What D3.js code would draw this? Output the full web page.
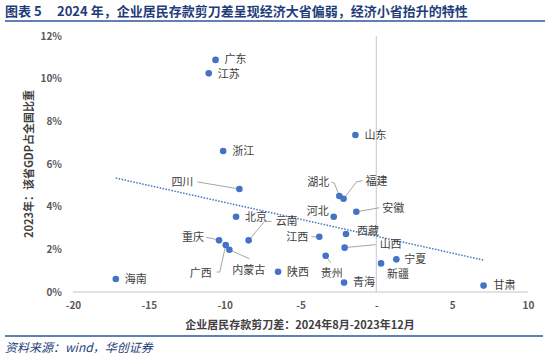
<!DOCTYPE html>
<html lang="zh">
<head>
<meta charset="utf-8">
<title>企业居民存款剪刀差</title>
<script src="https://d3js.org/d3.v7.min.js"></script>
<style>
  body { margin: 0; background: #fff; }
  svg text { font-family: "Noto Sans CJK SC", "Noto Sans", sans-serif; }
</style>
</head>
<body>
<div id="chart"></div>
<script>
// provinces: x = deposit scissors gap (2024-08 vs 2023-12), y = GDP share 2023 (%)
var provinces = ["广东","江苏","浙江","山东","四川","湖北","福建","河北","安徽","北京","云南","西藏",
                 "江西","山西","重庆","广西","内蒙古","陕西","贵州","青海","新疆","宁夏","甘肃","海南"]
var gap   = [-10.6,-11.05,-10.1,-1.38,-9.03,-2.44,-2.16,-2.81,-1.32,-9.25,-8.42,-2.0,
             -3.76,-2.09,-10.37,-9.93,-9.69,-6.48,-3.34,-2.13,0.31,1.32,7.07,-17.18]
var share = [10.88,10.25,6.61,7.36,4.83,4.5,4.37,3.53,3.76,3.53,2.42,2.72,
             2.59,2.08,2.42,2.2,1.98,0.95,1.7,0.44,1.34,1.53,0.3,0.61]
var xTicks = [-20,-15,-10,-5,0,5,10]
var yTicks = [0,2,4,6,8,10,12]

// label placement: [dx, dy, anchor, leader points relative to dot]
var labelPos = {
  "广东":[9,-1,"start"], "江苏":[9,1,"start"], "浙江":[9,0,"start"], "山东":[9,0,"start"],
  "四川":[-46,-7,"end",[[0,0],[-42,-7]]],
  "湖北":[-10,-14,"end",[[0,0],[-5,-13],[-8,-14]]],
  "福建":[22,-18,"start",[[0,0],[13,-17],[19,-18]]],
  "河北":[-5,-6,"end"],
  "安徽":[26,-4,"start",[[0,0],[23,-4]]],
  "北京":[9,0,"start"],
  "云南":[27,-19,"start",[[0,0],[16,-19],[23,-19]]],
  "西藏":[11,-3,"start"],
  "江西":[-11,0,"end",[[0,0],[-8,0]]],
  "山西":[35,-3,"start",[[0,0],[31,-3]]],
  "重庆":[-15,-3,"end",[[0,0],[-7,-2],[-13,-3]]],
  "广西":[-14,28,"end",[[0,0],[-6,27],[-9,27]]],
  "内蒙古":[3,20,"start",[[0,0],[20,9]]],
  "陕西":[9,0,"start"],
  "贵州":[-5,17,"start",[[0,0],[5,7]]],
  "青海":[9,0,"start"],
  "新疆":[6,11,"start"],
  "宁夏":[8,0,"start"],
  "甘肃":[10,0,"start"],
  "海南":[9,0,"start"]
}

var W = 550, H = 364
var svg = d3.select("#chart").append("svg").attr("width", W).attr("height", H)

// title
var title = svg.append("text").attr("y", 16)
  .attr("fill", "#1F3D7A").attr("font-size", "13px").attr("font-weight", "bold")
title.append("tspan").attr("x", 5).text("图表 5")
title.append("tspan").attr("x", 57).text("2024 年，企业居民存款剪刀差呈现经济大省偏弱，经济小省抬升的特性")
svg.append("line").attr("x1", 5).attr("x2", 545).attr("y1", 21).attr("y2", 21)
  .attr("stroke", "#2E5597").attr("stroke-width", 1.5)

var x = d3.scaleLinear().domain([-20, 10]).range([73, 528])
var y = d3.scaleLinear().domain([0, 12]).range([292, 36])

// axis lines
svg.append("line").attr("x1", x(-20)).attr("x2", x(10)).attr("y1", y(0)).attr("y2", y(0))
  .attr("stroke", "#D9D9D9").attr("stroke-width", 1.5)
svg.append("line").attr("x1", x(0)).attr("x2", x(0)).attr("y1", y(12)).attr("y2", y(0))
  .attr("stroke", "#D0D0D0").attr("stroke-width", 1.2)

// tick labels
var xAxis = d3.axisBottom(x).tickValues(xTicks).tickSize(0).tickPadding(0)
  .tickFormat(function(d){ return d === 0 ? "-" : d })
var gx = svg.append("g").attr("transform", "translate(0,302)").call(xAxis)
gx.select(".domain").remove()
gx.selectAll("text").attr("fill", "#595959").attr("font-size", "10px").attr("font-weight", "bold")
  .attr("font-family", "'Noto Sans', sans-serif")

var yAxis = d3.axisLeft(y).tickValues(yTicks).tickSize(0).tickPadding(0)
  .tickFormat(function(d){ return d + "%" })
var gy = svg.append("g").attr("transform", "translate(62,0)").call(yAxis)
gy.select(".domain").remove()
gy.selectAll("text").attr("fill", "#595959").attr("font-size", "10px").attr("font-weight", "bold")
  .attr("font-family", "'Noto Sans', sans-serif")

// axis titles
svg.append("text").attr("x", 300).attr("y", 329).attr("text-anchor", "middle")
  .attr("fill", "#404040").attr("font-size", "11px").attr("font-weight", "bold")
  .text("企业居民存款剪刀差：2024年8月-2023年12月")
svg.append("text").attr("transform", "translate(33,164) rotate(-90)").attr("text-anchor", "middle")
  .attr("fill", "#404040").attr("font-size", "11px").attr("font-weight", "bold")
  .text("2023年：该省GDP占全国比重")

var data = provinces.map(function(p, i){ return { name: p, x: gap[i], y: share[i] } })

// linear trend (least squares) over the data range
var mx = d3.mean(data, function(d){ return d.x }), my = d3.mean(data, function(d){ return d.y })
var sxy = d3.sum(data, function(d){ return (d.x - mx) * (d.y - my) })
var sxx = d3.sum(data, function(d){ return (d.x - mx) * (d.x - mx) })
var slope = sxy / sxx, icpt = my - slope * mx
var xr = d3.extent(data, function(d){ return d.x })
svg.append("line")
  .attr("x1", x(xr[0])).attr("y1", y(icpt + slope * xr[0]))
  .attr("x2", x(xr[1])).attr("y2", y(icpt + slope * xr[1]))
  .attr("stroke", "#4472C4").attr("stroke-width", 1.5).attr("stroke-dasharray", "1.5,1.5")

// leader lines
data.forEach(function(d){
  var lp = labelPos[d.name]
  if (lp && lp[3]) {
    svg.append("polyline")
      .attr("points", lp[3].map(function(p){ return (x(d.x) + p[0]) + "," + (y(d.y) + p[1]) }).join(" "))
      .attr("fill", "none").attr("stroke", "#A6A6A6").attr("stroke-width", 1)
  }
})

svg.selectAll("circle.pt").data(data).enter().append("circle")
  .attr("class", "pt")
  .attr("cx", function(d){ return x(d.x) }).attr("cy", function(d){ return y(d.y) })
  .attr("r", 3.3).attr("fill", "#4472C4")

svg.selectAll("text.lbl").data(data).enter().append("text")
  .attr("class", "lbl")
  .attr("x", function(d){ return x(d.x) + labelPos[d.name][0] })
  .attr("y", function(d){ return y(d.y) + labelPos[d.name][1] })
  .attr("dy", "0.35em")
  .attr("text-anchor", function(d){ return labelPos[d.name][2] })
  .attr("fill", "#404040").attr("font-size", "11px")
  .text(function(d){ return d.name })

// footer
svg.append("line").attr("x1", 5).attr("x2", 543).attr("y1", 336).attr("y2", 336)
  .attr("stroke", "#2E5597").attr("stroke-width", 1.5)
svg.append("text").attr("x", 5).attr("y", 352)
  .attr("fill", "#1F3D7A").attr("font-size", "12px").attr("font-style", "italic")
  .text("资料来源：wind，华创证券")
</script>
</body>
</html>
